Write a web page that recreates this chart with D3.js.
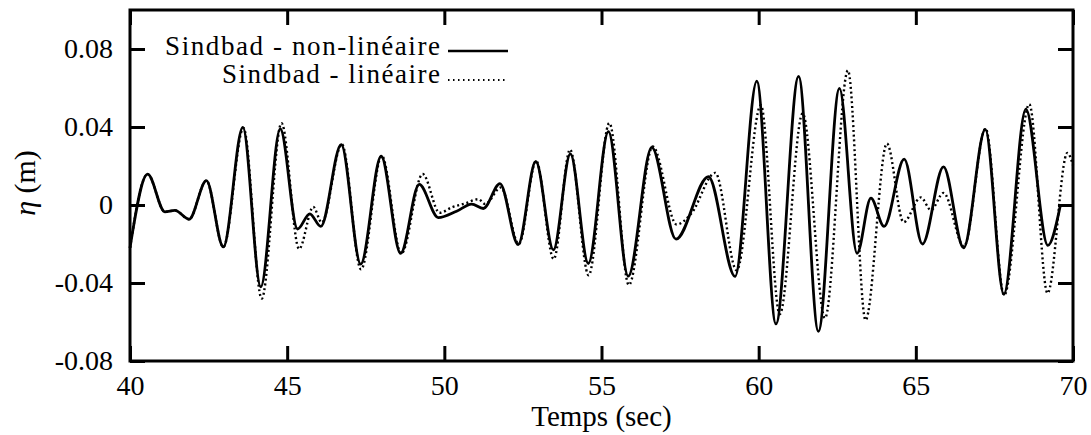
<!DOCTYPE html>
<html>
<head>
<meta charset="utf-8">
<script src="https://cdn.jsdelivr.net/npm/d3@7"></script>
<style>
    body { margin: 0; background: #fff; }
    svg text { font-family: "Liberation Serif", "Times New Roman", "DejaVu Serif", serif; fill: #000; }
</style>
</head>
<body>
<div id="chart"></div>
<script>

// Sindbad - non-linéaire (solid line) at peaks / troughs
let tempsNL = [40.00, 40.56, 41.11, 41.43, 41.88, 42.43, 42.97, 43.59, 44.16, 44.78,
    45.33, 45.72, 46.07, 46.72, 47.34, 47.99, 48.61, 49.20, 49.81, 50.39,
    50.87, 51.24, 51.77, 52.35, 52.91, 53.47, 54.01, 54.58, 55.22, 55.85,
    56.60, 57.37, 58.40, 59.25, 59.94, 60.55, 61.27, 61.90, 62.57, 63.13,
    63.57, 63.99, 64.63, 65.21, 65.88, 66.52, 67.21, 67.80, 68.50, 69.20, 69.60];
let etaNL = [-0.0220, 0.0158, -0.0035, -0.0028, -0.0073, 0.0125, -0.0215, 0.0398, -0.0420, 0.0390,
    -0.0123, -0.0045, -0.0110, 0.0310, -0.0303, 0.0250, -0.0248, 0.0106, -0.0065, -0.0032,
    0.0005, -0.0018, 0.0110, -0.0203, 0.0224, -0.0230, 0.0262, -0.0300, 0.0376, -0.0365,
    0.0296, -0.0175, 0.0146, -0.0366, 0.0635, -0.0610, 0.0660, -0.0648, 0.0598, -0.0248,
    0.0035, -0.0110, 0.0235, -0.0200, 0.0196, -0.0220, 0.0388, -0.0458, 0.0492, -0.0207, 0.0000];

// Sindbad - linéaire (dotted line)
let tempsL = [40.00, 40.56, 41.11, 41.43, 41.88, 42.43, 42.97, 43.61, 44.19, 44.82,
    45.38, 45.83, 46.10, 46.74, 47.35, 48.01, 48.63, 49.31, 49.85, 50.24,
    50.70, 51.08, 51.30, 51.80, 52.37, 52.92, 53.48, 54.00, 54.59, 55.25,
    55.87, 56.63, 57.39, 57.85, 58.62, 59.30, 60.07, 60.67, 61.40, 62.11,
    62.84, 63.40, 64.08, 64.61, 65.16, 65.48, 65.88, 66.53, 67.22, 67.81,
    68.61, 69.19, 69.82, 70.00];
let etaL = [-0.0220, 0.0158, -0.0035, -0.0028, -0.0073, 0.0125, -0.0215, 0.0395, -0.0480, 0.0420,
    -0.0225, -0.0010, -0.0090, 0.0312, -0.0330, 0.0252, -0.0250, 0.0159, -0.0040, -0.0012,
    0.0010, 0.0030, 0.0005, 0.0090, -0.0200, 0.0226, -0.0277, 0.0284, -0.0360, 0.0420,
    -0.0410, 0.0300, -0.0100, -0.0045, 0.0165, -0.0335, 0.0512, -0.0560, 0.0470, -0.0580,
    0.0690, -0.0590, 0.0315, -0.0088, 0.0039, -0.0026, 0.0062, -0.0212, 0.0392, -0.0462,
    0.0517, -0.0452, 0.0267, 0.0205];

let xTicks = [40, 45, 50, 55, 60, 65, 70];
let yTicks = [-0.08, -0.04, 0, 0.04, 0.08];
let yTickLabels = ["-0.08", "-0.04", "0", "0.04", "0.08"];
let seriesNames = ["Sindbad - non-linéaire", "Sindbad - linéaire"];

let serif = "'Liberation Serif', 'Times New Roman', 'DejaVu Serif', serif";

let margin = {top: 10, right: 18, bottom: 74, left: 130},
    width = 1091 - margin.left - margin.right,
    height = 435 - margin.top - margin.bottom;

let svg = d3.select("#chart").append("svg")
    .attr("width", width + margin.left + margin.right)
    .attr("height", height + margin.top + margin.bottom)
    .append("g")
    .attr("transform", "translate(" + margin.left + "," + margin.top + ")");

let x = d3.scaleLinear()
    .domain([40, 70])
    .range([0, width]);

let y = d3.scaleLinear()
    .domain([-0.08, 0.1])
    .range([height, 0]);

// gnuplot style: ticks on all four sides, pointing inwards
let xAxis = d3.axisBottom(x).tickValues(xTicks).tickSize(-15).tickPadding(14);
let yAxis = d3.axisLeft(y).tickValues(yTicks).tickSize(-15).tickPadding(17)
    .tickFormat((d, i) => yTickLabels[i]);

svg.append("g")
    .attr("class", "x-axis axis")
    .attr("transform", "translate(0," + height + ")")
    .call(xAxis);

svg.append("g")
    .attr("class", "y-axis axis")
    .call(yAxis);

svg.append("g")
    .attr("class", "axis")
    .call(d3.axisTop(x).tickValues(xTicks).tickSize(-15).tickFormat(""));

svg.append("g")
    .attr("class", "axis")
    .attr("transform", "translate(" + width + ",0)")
    .call(d3.axisRight(y).tickValues(yTicks).tickSize(-15).tickFormat(""));

svg.selectAll(".axis .domain").remove();
svg.selectAll(".axis").attr("font-family", serif);
svg.selectAll(".axis line").attr("stroke", "#000").attr("stroke-width", 3);
svg.selectAll(".axis text")
    .attr("font-size", 28)
    .attr("fill", "#000");

svg.append("rect")
    .attr("width", width)
    .attr("height", height)
    .attr("fill", "none")
    .attr("stroke", "#000")
    .attr("stroke-width", 3);

// ---- CURVES ----
let line = d3.line()
    .x(d => x(d[0]))
    .y(d => y(d[1]))
    .curve(d3.curveMonotoneX);

let dataNL = tempsNL.map((t, i) => [t, etaNL[i]]);
let dataL = tempsL.map((t, i) => [t, etaL[i]]);

svg.append("path")
    .datum(dataL)
    .attr("fill", "none")
    .attr("stroke", "#000")
    .attr("stroke-width", 2.4)
    .attr("stroke-dasharray", "2,2.8")
    .attr("d", line);

svg.append("path")
    .datum(dataNL)
    .attr("fill", "none")
    .attr("stroke", "#000")
    .attr("stroke-width", 2.8)
    .attr("d", line);

// ---- LEGEND ----
let legendWidths = [275, 218];

let legend = svg.append("g")
    .attr("transform", "translate(" + (440 - margin.left) + ",0)");

legend.selectAll("text.legend")
    .data(seriesNames)
    .enter()
    .append("text")
    .attr("class", "legend")
    .attr("x", 0)
    .attr("y", (d, i) => 45 + i * 28)
    .attr("text-anchor", "end")
    .attr("font-family", serif)
    .attr("font-size", 27)
    .attr("textLength", (d, i) => legendWidths[i])
    .attr("lengthAdjust", "spacing")
    .text(d => d);

legend.append("line")
    .attr("x1", 8).attr("x2", 68)
    .attr("y1", 41).attr("y2", 41)
    .attr("stroke", "#000")
    .attr("stroke-width", 2.6);

legend.append("line")
    .attr("x1", 8).attr("x2", 68)
    .attr("y1", 70).attr("y2", 70)
    .attr("stroke", "#000")
    .attr("stroke-width", 1.8)
    .attr("stroke-dasharray", "1.5,3.5");

// ---- AXIS TITLES ----
svg.append("text")
    .attr("class", "axis-title")
    .attr("x", x(55))
    .attr("y", height + 65)
    .attr("text-anchor", "middle")
    .attr("font-family", serif)
    .attr("font-size", 29)
    .text("Temps (sec)");

let yTitle = svg.append("text")
    .attr("class", "axis-title")
    .attr("transform", "translate(" + (35 - margin.left) + "," + (183 - margin.top) + ") rotate(-90)")
    .attr("text-anchor", "middle")
    .attr("font-family", serif)
    .attr("font-size", 30);

yTitle.append("tspan").attr("font-style", "italic").text("η");
yTitle.append("tspan").text(" (m)");

</script>
</body>
</html>
